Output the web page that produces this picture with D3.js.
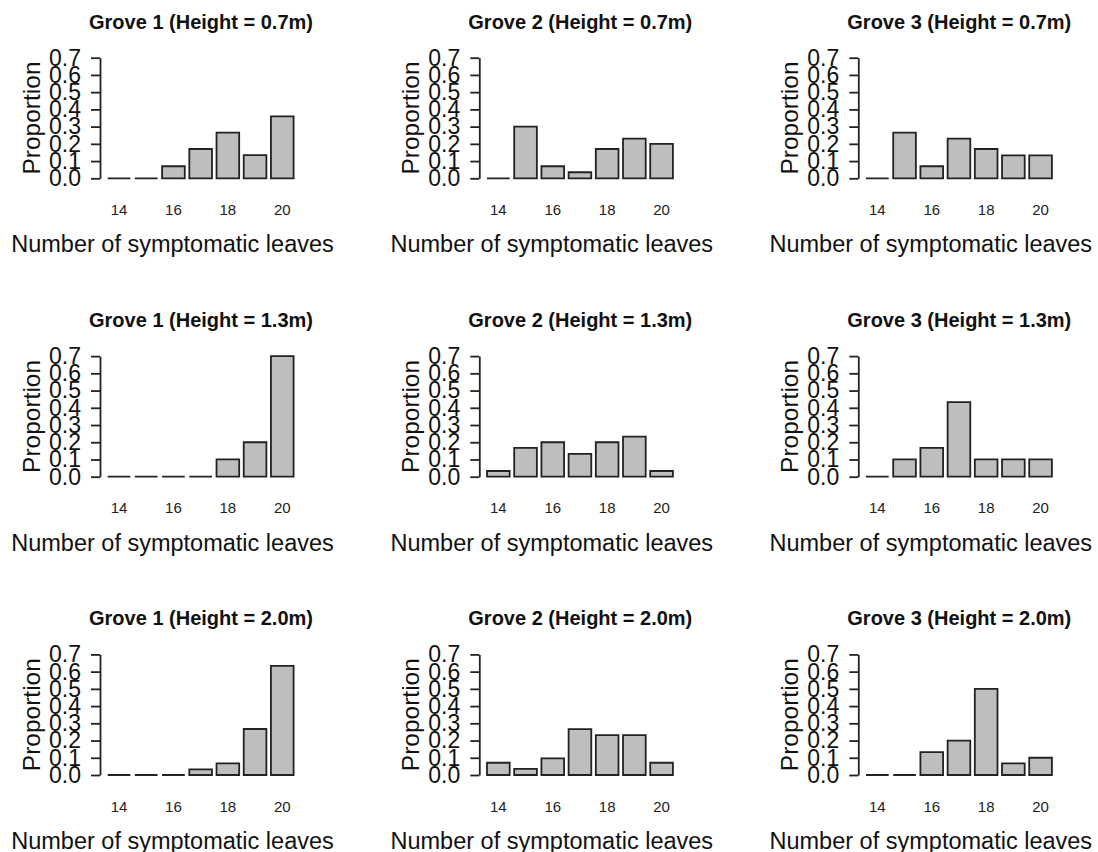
<!DOCTYPE html>
<html>
<head>
<meta charset="utf-8">
<script src="https://d3js.org/d3.v7.min.js"></script>
<style>
  body { margin: 0; background: #fff; }
  svg { display: block; font-family: "Liberation Sans", Arial, sans-serif; }
</style>
</head>
<body>
<svg id="chart" width="1098" height="852"></svg>
<script>
// categories on the x axis
const leaves = ["14", "15", "16", "17", "18", "19", "20"];
const leafTicks = ["14", "16", "18", "20"];
const yTicks = [0, 0.1, 0.2, 0.3, 0.4, 0.5, 0.6, 0.7];
const groves = ["Grove 1", "Grove 2", "Grove 3"];
const heights = ["0.7m", "1.3m", "2.0m"];

// proportions, one array per grove / height
const g1_07 = [0, 0, 0.07, 0.17, 0.265, 0.135, 0.36];
const g2_07 = [0, 0.30, 0.07, 0.035, 0.17, 0.23, 0.20];
const g3_07 = [0, 0.265, 0.07, 0.23, 0.17, 0.133, 0.133];
const g1_13 = [0, 0, 0, 0, 0.1, 0.2, 0.7];
const g2_13 = [0.033, 0.167, 0.2, 0.133, 0.2, 0.233, 0.033];
const g3_13 = [0, 0.1, 0.167, 0.433, 0.1, 0.1, 0.1];
const g1_20 = [0, 0, 0, 0.033, 0.067, 0.267, 0.633];
const g2_20 = [0.071, 0.035, 0.096, 0.266, 0.231, 0.231, 0.071];
const g3_20 = [0, 0, 0.133, 0.2, 0.5, 0.067, 0.1];

const panels = [
  [g1_07, g2_07, g3_07],
  [g1_13, g2_13, g3_13],
  [g1_20, g2_20, g3_20]
];

const svg = d3.select("#chart");
svg.append("rect").attr("width", 1098).attr("height", 852).attr("fill", "#fff");

const colX = [100, 479.3, 858.3];
const rowBase = [178.3, 476.7, 775];
const plotH = 120.6;
const bandW = 201.3;

panels.forEach((row, r) => {
  row.forEach((vals, c) => {
    const x0 = colX[c], base = rowBase[r], top = base - plotH;
    const x = d3.scaleBand().domain(leaves).range([x0, x0 + bandW])
      .paddingInner(0.1667).paddingOuter(0.283);
    const y = d3.scaleLinear().domain([0, 0.7]).range([base, top]);
    const g = svg.append("g");

    // bars (paths so that zero height still shows a line)
    g.selectAll("path.bar").data(vals).join("path")
      .attr("class", "bar")
      .attr("d", (v, i) => {
        const p = d3.path();
        const bx = x(leaves[i]), bw = x.bandwidth();
        p.moveTo(bx, y(0));
        p.lineTo(bx, y(v));
        p.lineTo(bx + bw, y(v));
        p.lineTo(bx + bw, y(0));
        p.closePath();
        return p.toString();
      })
      .attr("fill", "#bebebe")
      .attr("stroke", "#222")
      .attr("stroke-width", 1.8);

    // y axis
    const ya = g.append("g").attr("transform", `translate(${x0},0)`)
      .call(d3.axisLeft(y).tickValues(yTicks).tickFormat(d3.format(".1f"))
        .tickSize(9).tickSizeOuter(0).tickPadding(10));
    ya.select(".domain").attr("stroke", "#222").attr("stroke-width", 1.8);
    ya.selectAll(".tick line").attr("stroke", "#222").attr("stroke-width", 1.8);
    ya.selectAll(".tick text").attr("font-size", 23).attr("fill", "#111")
      .attr("font-family", "Liberation Sans, Arial, sans-serif");

    // x tick labels
    const xa = g.append("g").attr("transform", `translate(0,${base})`)
      .call(d3.axisBottom(x).tickValues(leafTicks).tickSize(0).tickPadding(26));
    xa.select(".domain").remove();
    xa.selectAll(".tick text").attr("font-size", 15).attr("fill", "#222")
      .attr("font-family", "Liberation Sans, Arial, sans-serif");

    // title
    g.append("text")
      .attr("x", x0 + 101).attr("y", top - 29)
      .attr("text-anchor", "middle")
      .attr("font-size", 20).attr("font-weight", "bold").attr("fill", "#111")
      .text(`${groves[c]} (Height = ${heights[r]})`);

    // x label
    g.append("text")
      .attr("x", x0 + 72.5).attr("y", base + 74)
      .attr("text-anchor", "middle")
      .attr("font-size", 23.5).attr("fill", "#111")
      .text("Number of symptomatic leaves");

    // y label
    g.append("text")
      .attr("transform", `translate(${x0 - 60.5},${(base + top) / 2}) rotate(-90)`)
      .attr("text-anchor", "middle")
      .attr("font-size", 24.5).attr("fill", "#111")
      .text("Proportion");
  });
});
</script>
</body>
</html>
